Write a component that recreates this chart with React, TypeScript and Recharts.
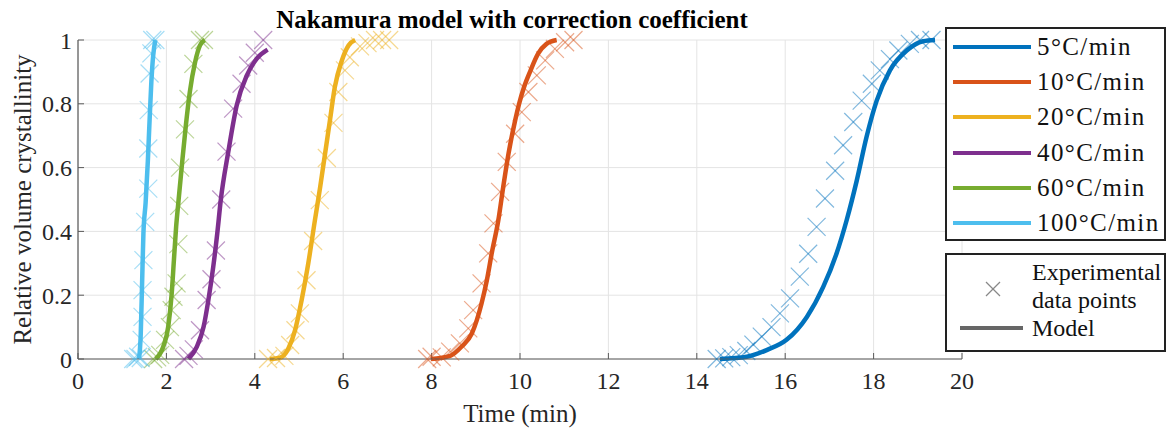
import React from 'react'
import { ComposedChart, Line, Scatter, XAxis, YAxis, CartesianGrid, Legend } from 'recharts'

const FONT = '"Liberation Serif", "Times New Roman", serif'

const RATES = ['5°C/min', '10°C/min', '20°C/min', '40°C/min', '60°C/min', '100°C/min']
const COLORS = ['#0072BD', '#D95319', '#EDB120', '#7E2F8E', '#77AC30', '#4DBEEE']

const X_TICKS = [0, 2, 4, 6, 8, 10, 12, 14, 16, 18, 20]
const Y_TICKS = [0, 0.2, 0.4, 0.6, 0.8, 1]

// model curves (time in min, relative crystallinity)
const model5T = [14.52, 15.13, 15.58, 16.03, 16.49, 16.86, 17.16, 17.39, 17.62, 17.84, 18.07, 18.37, 18.75, 19.12, 19.39]
const model5Y = [0, 0.007, 0.028, 0.06, 0.132, 0.226, 0.33, 0.435, 0.56, 0.696, 0.81, 0.905, 0.967, 0.996, 1]
const model10T = [7.98, 8.42, 8.68, 8.91, 9.13, 9.25, 9.36, 9.51, 9.62, 9.74, 9.89, 9.98, 10.09, 10.24, 10.41, 10.6, 10.83]
const model10Y = [0, 0.01, 0.039, 0.08, 0.174, 0.247, 0.331, 0.435, 0.539, 0.644, 0.748, 0.8, 0.852, 0.905, 0.957, 0.988, 1]
const model20T = [4.34, 4.57, 4.76, 4.91, 5.06, 5.21, 5.36, 5.48, 5.59, 5.7, 5.81, 5.97, 6.12, 6.27]
const model20Y = [0, 0.004, 0.033, 0.09, 0.185, 0.3, 0.435, 0.54, 0.644, 0.748, 0.852, 0.936, 0.983, 1]
const model40T = [2.5, 2.69, 2.84, 2.95, 3.06, 3.15, 3.23, 3.4, 3.59, 3.82, 4.04, 4.29]
const model40Y = [0, 0.039, 0.1, 0.185, 0.289, 0.393, 0.498, 0.649, 0.795, 0.889, 0.941, 0.97]
const model60T = [1.76, 1.93, 2.04, 2.12, 2.17, 2.22, 2.27, 2.35, 2.44, 2.53, 2.65, 2.76, 2.87]
const model60Y = [0, 0.039, 0.1, 0.205, 0.31, 0.414, 0.49, 0.607, 0.732, 0.837, 0.931, 0.983, 1]
const model100T = [1.38, 1.42, 1.45, 1.48, 1.53, 1.58, 1.62, 1.66, 1.7, 1.75]
const model100Y = [0, 0.08, 0.237, 0.393, 0.49, 0.62, 0.75, 0.87, 0.95, 1]

// experimental points
const exp5T = [14.45, 14.62, 14.78, 14.95, 15.12, 15.28, 15.47, 15.69, 15.88, 16.11, 16.33, 16.52, 16.71, 16.9, 17.13, 17.31, 17.54, 17.73, 17.96, 18.14, 18.37, 18.56, 18.82, 19.05, 19.31]
const exp5Y = [0, 0.002, 0.006, 0.012, 0.025, 0.045, 0.07, 0.1, 0.143, 0.19, 0.258, 0.33, 0.414, 0.503, 0.59, 0.67, 0.743, 0.81, 0.863, 0.905, 0.94, 0.967, 0.988, 1, 1]
const exp10T = [7.9, 8.0, 8.23, 8.42, 8.64, 8.83, 8.94, 9.13, 9.28, 9.4, 9.55, 9.7, 9.89, 10.04, 10.19, 10.38, 10.57, 10.79, 11.02, 11.21]
const exp10Y = [0, 0.007, 0.005, 0.023, 0.049, 0.096, 0.153, 0.237, 0.331, 0.425, 0.524, 0.618, 0.706, 0.774, 0.837, 0.889, 0.936, 0.972, 0.993, 1]
const exp20T = [4.3, 4.48, 4.67, 4.8, 4.92, 5.02, 5.17, 5.32, 5.47, 5.63, 5.78, 5.89, 6.04, 6.15, 6.38, 6.55, 6.72, 6.88, 7.04]
const exp20Y = [0, 0.003, 0.01, 0.044, 0.09, 0.143, 0.247, 0.37, 0.498, 0.63, 0.74, 0.837, 0.905, 0.946, 0.98, 0.99, 1, 1, 1]
const exp40T = [2.4, 2.5, 2.62, 2.76, 2.91, 3.02, 3.12, 3.24, 3.36, 3.51, 3.7, 3.85, 4.0, 4.19]
const exp40Y = [0, 0.01, 0.03, 0.09, 0.185, 0.25, 0.34, 0.5, 0.65, 0.785, 0.863, 0.92, 0.96, 1]
const exp60T = [1.7, 1.79, 1.86, 1.97, 2.08, 2.12, 2.16, 2.23, 2.27, 2.29, 2.31, 2.42, 2.5, 2.61, 2.76, 2.85]
const exp60Y = [0, 0.005, 0.013, 0.06, 0.1, 0.153, 0.195, 0.237, 0.36, 0.48, 0.6, 0.72, 0.815, 0.925, 1, 1]
const exp100T = [1.25, 1.3, 1.36, 1.42, 1.44, 1.46, 1.46, 1.48, 1.52, 1.59, 1.59, 1.6, 1.62, 1.66, 1.68, 1.75]
const exp100Y = [0, 0, 0.007, 0.003, 0.06, 0.132, 0.216, 0.31, 0.43, 0.534, 0.66, 0.78, 0.895, 0.958, 1, 1]

const toPoints = (t: number[], y: number[]) => t.map((v, i) => ({ t: v, y: y[i] }))

const models = [
  toPoints(model5T, model5Y),
  toPoints(model10T, model10Y),
  toPoints(model20T, model20Y),
  toPoints(model40T, model40Y),
  toPoints(model60T, model60Y),
  toPoints(model100T, model100Y),
]
const experiments = [
  toPoints(exp5T, exp5Y),
  toPoints(exp10T, exp10Y),
  toPoints(exp20T, exp20Y),
  toPoints(exp40T, exp40Y),
  toPoints(exp60T, exp60Y),
  toPoints(exp100T, exp100Y),
]

function Cross({ cx, cy, color }: { cx?: number; cy?: number; color: string }) {
  if (cx == null || cy == null) return null
  const s = 9
  return (
    <g stroke={color} strokeOpacity={0.5} strokeWidth={1.2}>
      <line x1={cx - s} y1={cy - s} x2={cx + s} y2={cy + s} />
      <line x1={cx - s} y1={cy + s} x2={cx + s} y2={cy - s} />
    </g>
  )
}

function LegendBoxes() {
  return (
    <div style={{ position: 'relative', width: 222, height: 326, fontFamily: FONT, fontSize: 24, color: '#111' }}>
      <div style={{ position: 'absolute', left: 0, top: 0, width: 221, height: 214, boxSizing: 'border-box', border: '2px solid #222', background: '#fff' }}>
        {RATES.map((r, i) => (
          <div key={r} style={{ position: 'absolute', left: 0, top: 1 + i * 35.2, height: 34, display: 'flex', alignItems: 'center', whiteSpace: 'nowrap' }}>
            <svg width={90} height={10} style={{ display: 'block' }}>
              <line x1={6} x2={84} y1={5} y2={5} stroke={COLORS[i]} strokeWidth={4} />
            </svg>
            <span style={{ fontSize: 25, letterSpacing: 1.4 }}>{r}</span>
          </div>
        ))}
      </div>
      <div style={{ position: 'absolute', left: 0, top: 226, width: 221, height: 99, boxSizing: 'border-box', border: '2px solid #222', background: '#fff' }}>
        <svg width={90} height={95} style={{ position: 'absolute', left: 0, top: 0 }}>
          <g stroke="#888" strokeWidth={1.3}>
            <line x1={39} y1={27} x2={53} y2={41} />
            <line x1={39} y1={41} x2={53} y2={27} />
          </g>
          <line x1={13} x2={76} y1={73} y2={73} stroke="#666" strokeWidth={4} />
        </svg>
        <div style={{ position: 'absolute', left: 85, top: 3, lineHeight: '28px' }}>
          <div>Experimental</div>
          <div>data points</div>
          <div>Model</div>
        </div>
      </div>
    </div>
  )
}

export default function App() {
  const tickStyle = { fontFamily: FONT, fontSize: 24, fill: '#262626' }
  return (
    <div style={{ position: 'absolute', left: 0, top: 0, width: 1167, height: 428, background: '#fff' }}>
      <div style={{ position: 'absolute', left: 0, top: 7, width: 1024, textAlign: 'center', fontFamily: FONT, fontWeight: 700, fontSize: 25, lineHeight: '25px', color: '#000', zIndex: 2 }}>
        Nakamura model with correction coefficient
      </div>
      <ComposedChart width={1167} height={428} margin={{ top: 40, right: 205, left: 0, bottom: 0 }}>
        <CartesianGrid stroke="#e4e4e4" strokeWidth={1} />
        <XAxis
          type="number"
          dataKey="t"
          domain={[0, 20]}
          ticks={X_TICKS}
          height={69}
          tick={tickStyle}
          tickSize={-6}
          tickMargin={19}
          axisLine={{ stroke: '#5a5a5a', strokeWidth: 1.2 }}
          tickLine={{ stroke: '#5a5a5a' }}
          label={{ value: 'Time (min)', position: 'insideBottom', offset: 6, style: { fontFamily: FONT, fontSize: 25, fill: '#262626' } }}
        />
        <YAxis
          type="number"
          domain={[0, 1]}
          ticks={Y_TICKS}
          width={78}
          tick={tickStyle}
          tickSize={-6}
          tickMargin={12}
          axisLine={{ stroke: '#5a5a5a', strokeWidth: 1.2 }}
          tickLine={{ stroke: '#5a5a5a' }}
          label={{ value: 'Relative volume crystallinity', angle: -90, position: 'insideLeft', offset: 22, style: { textAnchor: 'middle', fontFamily: FONT, fontSize: 25, fill: '#262626' } }}
        />
        {experiments.map((pts, i) => (
          <Scatter
            key={'e' + i}
            name={RATES[i] + ' exp'}
            data={pts}
            dataKey="y"
            isAnimationActive={false}
            shape={(p: any) => <Cross cx={p.cx} cy={p.cy} color={COLORS[i]} />}
          />
        ))}
        {models.map((pts, i) => (
          <Line
            key={'m' + i}
            name={RATES[i]}
            data={pts}
            dataKey="y"
            type="monotone"
            stroke={COLORS[i]}
            strokeWidth={4.5}
            dot={false}
            activeDot={false}
            isAnimationActive={false}
          />
        ))}
        <Legend
          layout="horizontal"
          verticalAlign="middle"
          align="center"
          wrapperStyle={{ left: 945, top: 27, width: 222, height: 326 }}
          content={() => <LegendBoxes />}
        />
      </ComposedChart>
    </div>
  )
}
